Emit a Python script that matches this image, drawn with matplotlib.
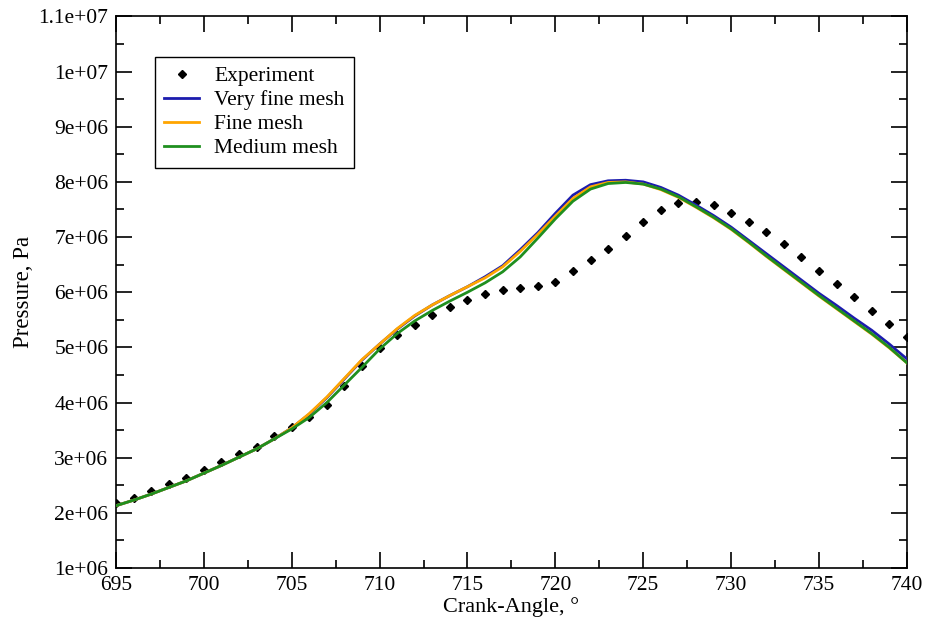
import numpy as np
import matplotlib
matplotlib.use('Agg')
import matplotlib.pyplot as plt
from matplotlib.ticker import MultipleLocator, FuncFormatter

# crank angle grid (deg)
angle = list(range(695, 741))

# experiment, Pa (in 1e6)
exp_p = [2.18, 2.27, 2.40, 2.53, 2.64, 2.78, 2.92, 3.07, 3.20, 3.39,
         3.56, 3.73, 3.96, 4.30, 4.66, 4.98, 5.22, 5.40, 5.59, 5.73,
         5.85, 5.96, 6.04, 6.08, 6.11, 6.18, 6.39, 6.58, 6.78, 7.02,
         7.28, 7.49, 7.61, 7.63, 7.58, 7.44, 7.27, 7.09, 6.88, 6.64,
         6.39, 6.15, 5.91, 5.66, 5.42, 5.19]

very_fine = [2.13, 2.23, 2.34, 2.46, 2.58, 2.72, 2.86, 3.01, 3.16, 3.34,
             3.54, 3.79, 4.09, 4.43, 4.77, 5.06, 5.33, 5.57, 5.77, 5.94,
             6.10, 6.28, 6.48, 6.77, 7.08, 7.43, 7.76, 7.95, 8.02, 8.03,
             8.00, 7.90, 7.76, 7.58, 7.39, 7.18, 6.94, 6.70, 6.46, 6.22,
             5.98, 5.76, 5.53, 5.31, 5.06, 4.79]

fine = [2.13, 2.23, 2.34, 2.46, 2.58, 2.72, 2.86, 3.01, 3.16, 3.34,
        3.54, 3.80, 4.10, 4.44, 4.78, 5.06, 5.34, 5.58, 5.77, 5.94,
        6.10, 6.26, 6.46, 6.74, 7.05, 7.38, 7.70, 7.91, 7.99, 8.00,
        7.96, 7.86, 7.72, 7.54, 7.35, 7.14, 6.90, 6.65, 6.41, 6.17,
        5.93, 5.70, 5.47, 5.24, 4.99, 4.72]

medium = [2.13, 2.23, 2.34, 2.46, 2.58, 2.72, 2.86, 3.01, 3.16, 3.34,
          3.52, 3.73, 4.00, 4.32, 4.64, 4.97, 5.25, 5.48, 5.67, 5.84,
          6.00, 6.17, 6.37, 6.64, 6.98, 7.33, 7.65, 7.87, 7.97, 7.99,
          7.96, 7.87, 7.73, 7.55, 7.36, 7.15, 6.91, 6.66, 6.42, 6.18,
          5.94, 5.71, 5.48, 5.25, 5.00, 4.72]

plt.rcParams['font.family'] = ['Liberation Serif', 'DejaVu Serif']

fig = plt.figure(figsize=(9.25, 6.24), dpi=100)
ax = fig.add_axes([0.1254, 0.0897, 0.855, 0.884])

x = np.array(angle)
ax.plot(x, np.array(exp_p) * 1e6, linestyle='none', marker='D', markersize=4,
        color='black', label='Experiment', zorder=2)
ax.plot(x, np.array(very_fine) * 1e6, color='#1c1cae', lw=2, label='Very fine mesh', zorder=3)
ax.plot(x, np.array(fine) * 1e6, color='#ffa500', lw=2, label='Fine mesh', zorder=4)
ax.plot(x, np.array(medium) * 1e6, color='#1f8f1f', lw=2, label='Medium mesh', zorder=5)

ax.set_xlim(695, 740)
ax.set_ylim(1e6, 1.1e7)
ax.xaxis.set_major_locator(MultipleLocator(5))
ax.xaxis.set_minor_locator(MultipleLocator(2.5))
ax.yaxis.set_major_locator(MultipleLocator(1e6))
ax.yaxis.set_minor_locator(MultipleLocator(5e5))
ax.yaxis.set_major_formatter(FuncFormatter(lambda v, p: '%g' % v))

ax.tick_params(which='both', direction='in', top=True, right=True, labelsize=15.5)
ax.tick_params(which='major', length=11.5, width=1.2)
ax.tick_params(which='minor', length=6, width=1.2)
ax.tick_params(axis='y', pad=5.5)
ax.tick_params(axis='x', pad=6)
for s in ax.spines.values():
    s.set_linewidth(1.2)

ax.set_xlabel('Crank-Angle, °', fontsize=16, labelpad=1)
ax.set_ylabel('Pressure, Pa', fontsize=16.5, labelpad=3)

leg = ax.legend(loc='upper left', bbox_to_anchor=(0.049, 0.927), borderaxespad=0,
                fontsize=15.5, frameon=True, fancybox=False, edgecolor='black',
                framealpha=1, handlelength=1.6, handletextpad=0.7, borderpad=0.45,
                labelspacing=0.18)
leg.get_frame().set_linewidth(1.0)

fig.savefig('out.png', dpi=100)
